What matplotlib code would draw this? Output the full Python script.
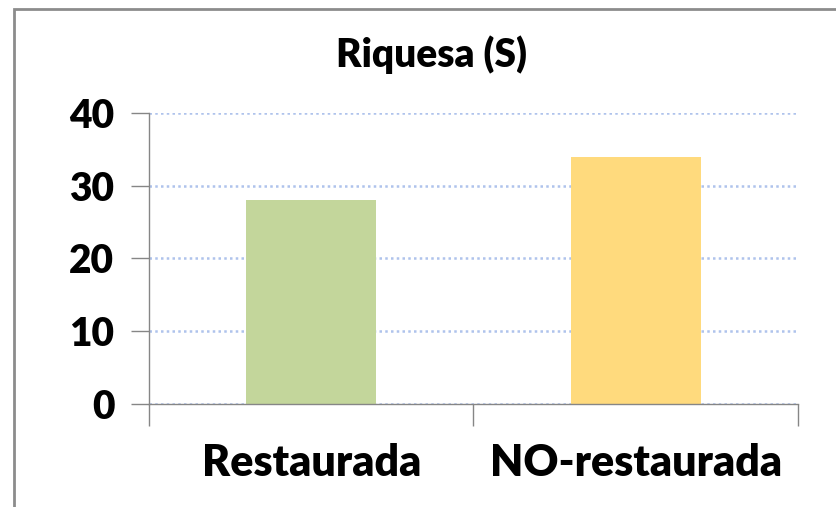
import matplotlib.pyplot as plt
from matplotlib.patches import Rectangle

categories = ["Restaurada", "NO-restaurada"]
values = [28, 34]
colors = ["#C3D69B", "#FFDA7D"]
yticks = [0, 10, 20, 30, 40]

plt.rcParams['font.family'] = ['Lato', 'DejaVu Sans']

W, H = 837, 507
fig = plt.figure(figsize=(W / 100, H / 100), dpi=100)

# outer chart frame (right/bottom run off the image)
fig.patches.append(Rectangle((14 / W, -0.1), 1.2, 1 - 9 / H + 0.1,
                             transform=fig.transFigure, fill=False,
                             edgecolor="#8c8c8c", linewidth=2))

ax = fig.add_axes([149 / W, 1 - 404 / H, (798 - 149) / W, (404 - 113) / H])
x = range(len(categories))
ax.bar(x, values, width=0.4, color=colors, zorder=3)
ax.set_xlim(-0.5, 1.5)
ax.set_ylim(0, 40)
ax.set_yticks(yticks)
ax.set_yticklabels([str(v) for v in yticks], fontsize=28, fontweight="heavy")
ax.set_xticks([-0.5, 0.5, 1.5])
ax.set_xticklabels([])
ax.set_xticks([0, 1], minor=True)
ax.set_xticklabels(categories, minor=True, fontsize=31, fontweight="heavy")
ax.tick_params(axis="x", which="minor", length=0, pad=28)
ax.tick_params(axis="x", which="major", length=16, color="#868686", width=1)
ax.tick_params(axis="y", length=13, color="#868686", width=1, pad=12)

ax.grid(axis="y", linestyle=(0, (1, 1.3)), color="#AFC3EC", linewidth=1.8, zorder=0)
for s in ["top", "right"]:
    ax.spines[s].set_visible(False)
for s in ["left", "bottom"]:
    ax.spines[s].set_color("#868686")
    ax.spines[s].set_linewidth(1)
    ax.spines[s].set_zorder(4)

fig.text(431 / W, 1 - 55 / H, "Riquesa (S)", ha="center", va="center",
         fontsize=28, fontweight="heavy")

fig.savefig("out.png", dpi=100)
